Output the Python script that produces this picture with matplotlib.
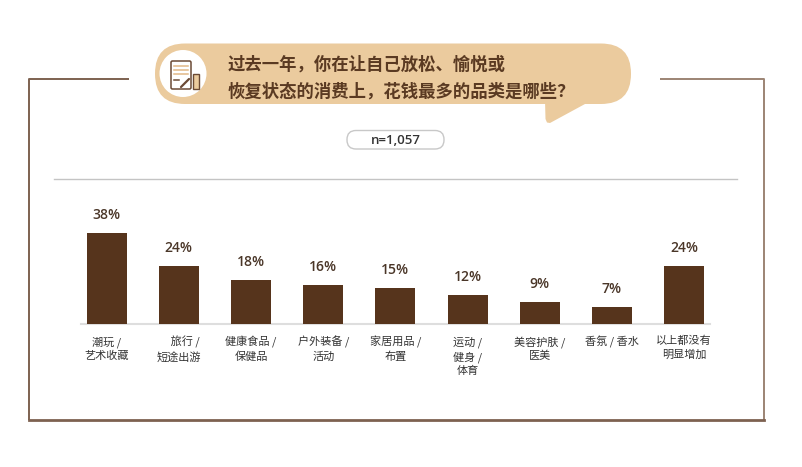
import matplotlib
matplotlib.use("Agg")
import matplotlib.pyplot as plt
from matplotlib.patches import FancyBboxPatch, Polygon, Circle, Rectangle

plt.rcParams['font.family'] = ['Noto Sans CJK SC', 'DejaVu Sans']
NUM_FONT = ['Open Sans', 'Noto Sans CJK SC', 'DejaVu Sans']

# data
categories = ["潮玩 /\n艺术收藏", "\u3000 旅行 /\n短途出游", "健康食品 /\n保健品",
              "户外装备 /\n活动", "家居用品 /\n布置", "运动 /\n健身 /\n体育",
              "美容护肤 /\n医美", "香氛 / 香水", "以上都没有\n明显增加"]
values = [38, 24, 18, 16, 15, 12, 9, 7, 24]
title_lines = ["过去一年，你在让自己放松、愉悦或", "恢复状态的消费上，花钱最多的品类是哪些？"]
sample_note = "n=1,057"

BAR = "#56341c"
TAN = "#ebcb9e"
FRAME = "#7d6150"
TITLE_C = "#5a3a22"

W, H = 802, 467
fig = plt.figure(figsize=(W / 100, H / 100), dpi=100)

# decoration layer in pixel coordinates
deco = fig.add_axes([0, 0, 1, 1], zorder=0)
deco.set_xlim(0, W)
deco.set_ylim(H, 0)
deco.axis("off")

# frame
deco.plot([129, 29, 29], [78.5, 78.5, 420], color=FRAME, lw=1.4, solid_capstyle="butt")
deco.plot([660, 764, 764], [78.5, 78.5, 420], color="#9c8474", lw=1.4, solid_capstyle="butt")
deco.plot([29, 764], [420, 420], color=FRAME, lw=2)
deco.plot([54, 737], [179, 179], color="#c4c4c4", lw=1)

# speech bubble
deco.add_patch(FancyBboxPatch((155, 43.5), 476, 60.5,
                              boxstyle="round,pad=0,rounding_size=30",
                              fc=TAN, ec="none"))
deco.add_patch(Polygon([(545, 100), (545.5, 119), (547, 122.5), (550, 123), (585, 104), (585, 100)],
                       closed=True, fc=TAN, ec="none"))
deco.add_patch(Circle((183, 73.5), 23.5, fc="white", ec="none"))

# icon
deco.add_patch(FancyBboxPatch((171, 61), 20, 28, boxstyle="round,pad=0,rounding_size=1.5",
                              fc="white", ec="#6b4a35", lw=1.1))
for yy in (66, 70, 74):
    deco.plot([174, 188], [yy, yy], color="#e2b886", lw=1.1)
deco.plot([174, 179], [80, 80], color="#6b4a35", lw=1.1)
deco.plot([181, 189], [87, 79], color="#6b4a35", lw=1.6, solid_capstyle="round")
deco.add_patch(Rectangle((193, 74), 6, 15, fc=TAN, ec="#6b4a35", lw=1.0))

# title
for k, line in enumerate(title_lines):
    deco.text(228, 64.5 + 27 * k, line, fontsize=12.5, fontweight="bold",
              color=TITLE_C, ha="left", va="center")

# sample size pill
deco.add_patch(FancyBboxPatch((347, 130.5), 97, 18.5, boxstyle="round,pad=0,rounding_size=9",
                              fc="white", ec="#c8c8c8", lw=1))
deco.text(395.5, 140, sample_note, fontsize=9.5, fontweight="semibold", color="#333333",
          ha="center", va="center", family=NUM_FONT)

# bar chart
ax = fig.add_axes([81 / W, 1 - 323.5 / H, (710 - 81) / W, (323.5 - 180) / H], zorder=1)
ax.patch.set_alpha(0)
x = list(range(len(values)))
ax.bar(x, values, width=0.554, color=BAR, zorder=2)
ax.axhline(0, color="#dedede", lw=1.5, zorder=1, clip_on=False)
ax.set_xlim(-0.356, 8.36)
ax.set_ylim(0, 60)
for s in ax.spines.values():
    s.set_visible(False)
ax.set_xticks([])
ax.set_yticks([])

for i, v in enumerate(values):
    ax.annotate(f"{v}%", xy=(i, v), xytext=(0, 13), textcoords="offset points",
                ha="center", va="center", fontsize=10, fontweight="semibold",
                color="#4a3628", family=NUM_FONT)
    ax.annotate(categories[i], xy=(i, 0), xytext=(0, -9), textcoords="offset points",
                ha="center", va="top", fontsize=8, color="#333333", linespacing=1.4)

fig.savefig("out.png", dpi=100)
